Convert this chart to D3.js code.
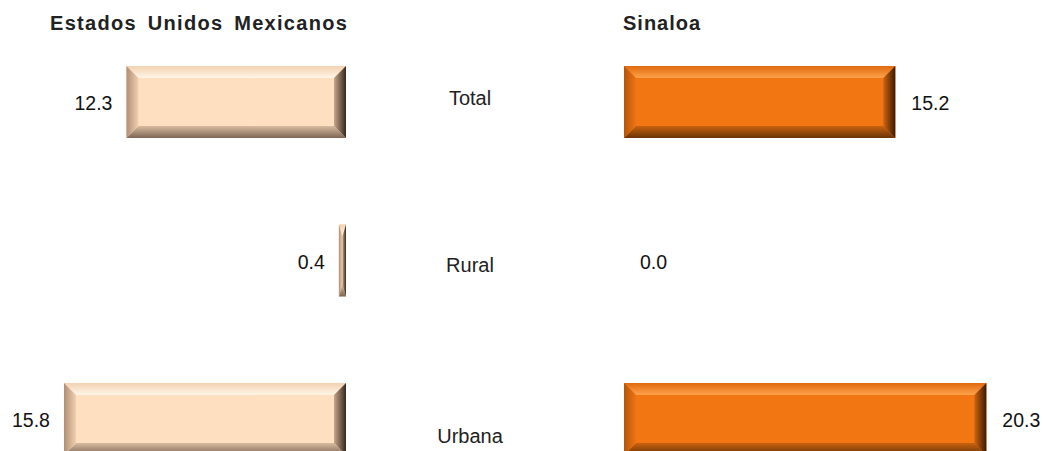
<!DOCTYPE html>
<html><head><meta charset="utf-8">
<script src="https://cdn.jsdelivr.net/npm/d3@7"></script>
<style>
html,body{margin:0;padding:0;background:#fff;}
svg{display:block;font-family:"Liberation Sans",Arial,sans-serif;}
</style></head>
<body>
<svg id="chart" width="1043" height="451"></svg>
<script>
const categories = ["Total", "Rural", "Urbana"];
const nationalValues = [12.3, 0.4, 15.8];
const sinaloaValues = [15.2, 0.0, 20.3];
const panelTitles = ["Estados Unidos Mexicanos", "Sinaloa"];

const svg = d3.select("#chart");
const pxPerUnit = 17.85;
const barH = 72, bevel = 12;

const y = d3.scalePoint().domain(categories).range([102, 419]);
const xLeft = d3.scaleLinear().domain([0, 1]).range([346, 346 - pxPerUnit]);
const xRight = d3.scaleLinear().domain([0, 1]).range([624, 624 + pxPerUnit]);
const labelNudge = {"Total": -4, "Rural": 4, "Urbana": 17};

const defs = svg.append("defs");
function grad(id, x2, y2, c1, c2) {
  const g = defs.append("linearGradient").attr("id", id)
    .attr("x1", 0).attr("y1", 0).attr("x2", x2).attr("y2", y2);
  g.append("stop").attr("offset", "0%").attr("stop-color", c1);
  g.append("stop").attr("offset", "100%").attr("stop-color", c2);
}
const themes = {
  nat: {fill: "#FEE0C0", top: ["#F2D2B2", "#FFF5E6"], bottom: ["#D9BCA0", "#7E6655"], left: ["#B08E76", "#F0D0B0"], right: ["#C8A68C", "#35281F"]},
  sin: {fill: "#F27612", top: ["#E06A0E", "#FFA24A"], bottom: ["#C8620E", "#6A3408"], left: ["#B35608", "#EE7414"], right: ["#D06410", "#3A1A04"]}
};
Object.entries(themes).forEach(([k, t]) => {
  grad(k + "-top", 0, 1, t.top[0], t.top[1]);
  grad(k + "-bottom", 0, 1, t.bottom[0], t.bottom[1]);
  grad(k + "-left", 1, 0, t.left[0], t.left[1]);
  grad(k + "-right", 1, 0, t.right[0], t.right[1]);
});

function drawBar(g, x0, x1, cy, theme) {
  const t = themes[theme];
  const a = Math.min(x0, x1), b = Math.max(x0, x1);
  const w = b - a;
  if (w <= 0.01) return;
  const top = cy - barH / 2, bot = cy + barH / 2;
  const bv = Math.min(bevel, w / 2);
  g.append("rect").attr("x", a).attr("y", top).attr("width", w).attr("height", barH).attr("fill", t.fill);
  const poly = (pts, f) => g.append("polygon").attr("points", pts.map(p => p.join(",")).join(" ")).attr("fill", f);
  poly([[a, top], [b, top], [b - bv, top + bevel], [a + bv, top + bevel]], `url(#${theme}-top)`);
  poly([[a + bv, bot - bevel], [b - bv, bot - bevel], [b, bot], [a, bot]], `url(#${theme}-bottom)`);
  poly([[a, top], [a + bv, top + bevel], [a + bv, bot - bevel], [a, bot]], `url(#${theme}-left)`);
  poly([[b, top], [b, bot], [b - bv, bot - bevel], [b - bv, top + bevel]], `url(#${theme}-right)`);
}

const gBars = svg.append("g");
categories.forEach((c, i) => {
  drawBar(gBars, xLeft(0), xLeft(nationalValues[i]), y(c), "nat");
  drawBar(gBars, xRight(0), xRight(sinaloaValues[i]), y(c), "sin");
});

// value labels
svg.append("g").selectAll("text").data(categories).join("text")
  .attr("x", (c, i) => xLeft(nationalValues[i]) - 14)
  .attr("y", c => y(c) + 8)
  .attr("text-anchor", "end")
  .attr("font-size", 19.5).attr("fill", "#111")
  .text((c, i) => nationalValues[i].toFixed(1));

svg.append("g").selectAll("text").data(categories).join("text")
  .attr("x", (c, i) => xRight(sinaloaValues[i]) + 16)
  .attr("y", c => y(c) + 8)
  .attr("text-anchor", "start")
  .attr("font-size", 19.5).attr("fill", "#111")
  .text((c, i) => sinaloaValues[i].toFixed(1));

// category labels
svg.append("g").selectAll("text").data(categories).join("text")
  .attr("x", 470)
  .attr("y", c => y(c) + 7 + labelNudge[c])
  .attr("text-anchor", "middle")
  .attr("font-size", 20).attr("fill", "#222")
  .text(c => c);

// titles
svg.append("text").attr("x", 50).attr("y", 30)
  .attr("font-size", 20).attr("font-weight", "bold").attr("fill", "#222")
  .attr("letter-spacing", 1.3).attr("word-spacing", 4)
  .text(panelTitles[0]);
svg.append("text").attr("x", 623).attr("y", 30)
  .attr("font-size", 20).attr("font-weight", "bold").attr("fill", "#222")
  .attr("letter-spacing", 1)
  .text(panelTitles[1]);
</script>
</body></html>
